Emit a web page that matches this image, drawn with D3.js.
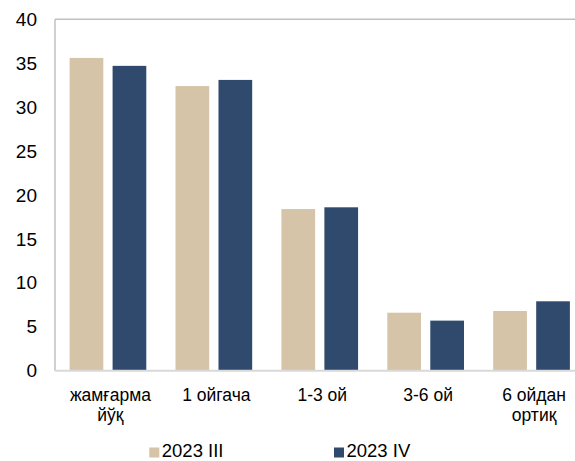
<!DOCTYPE html>
<html><head><meta charset="utf-8">
<script src="https://cdn.jsdelivr.net/npm/d3@7"></script>
<style>html,body{margin:0;padding:0;background:#fff;}svg{display:block;}</style>
</head><body>
<svg id="c" width="575" height="461"></svg>
<script>
const categories = [["жамғарма","йўқ"],["1 ойгача"],["1-3 ой"],["3-6 ой"],["6 ойдан","ортиқ"]];
const seriesNames = ["2023 III","2023 IV"];
const series2023III = [35.6, 32.4, 18.4, 6.6, 6.8];
const series2023IV = [34.7, 33.1, 18.6, 5.7, 7.9];
const yTicks = [0,5,10,15,20,25,30,35,40];
const colors = ["#d5c4a8","#2f4a6d"];

(function(){
const svg = d3.select("#c");
const font = "'Liberation Sans', Arial, sans-serif";
const pL = 55, pR = 584.5, pT = 19.3, pB = 370.7;

const x = d3.scaleBand().domain(d3.range(categories.length)).range([pL, pR]).paddingInner(0).paddingOuter(0);
const xs = d3.scaleBand().domain([0,1]).range([0, x.bandwidth()]).paddingInner(0.216).paddingOuter(0.34);
const y = d3.scaleLinear().domain([0,40]).range([pB, pT]);

svg.append("line").attr("x1",pL).attr("x2",575).attr("y1",pT).attr("y2",pT).attr("stroke","#c0c0c0").attr("stroke-width",1.5);
svg.append("line").attr("x1",pL).attr("x2",pL).attr("y1",pT).attr("y2",pB).attr("stroke","#c0c0c0").attr("stroke-width",1.5);

const data = [series2023III, series2023IV];
data.forEach((vals, si) => {
  svg.append("g").selectAll("rect").data(vals).join("rect")
    .attr("x", (d,i) => x(i) + xs(si))
    .attr("width", xs.bandwidth())
    .attr("y", d => y(d))
    .attr("height", d => y(0) - y(d))
    .attr("fill", colors[si]);
});

svg.append("line").attr("x1",pL).attr("x2",575).attr("y1",pB).attr("y2",pB).attr("stroke","#d9d9d9").attr("stroke-width",2);

const yAxis = d3.axisLeft(y).tickValues(yTicks).tickSize(0).tickPadding(18);
const gy = svg.append("g").attr("transform",`translate(${pL},0)`).call(yAxis);
gy.select(".domain").remove();
gy.selectAll("text").attr("font-family",font).attr("font-size",19).attr("fill","#000");

categories.forEach((lines, i) => {
  const t = svg.append("text").attr("text-anchor","middle").attr("font-family",font).attr("font-size",17.5).attr("fill","#000");
  lines.forEach((ln, j) => {
    t.append("tspan").attr("x", x(i) + x.bandwidth()/2 + 2.5).attr("y", 400.5 + j*20).text(ln);
  });
});

const legX = [149.3, 334];
seriesNames.forEach((name, i) => {
  svg.append("rect").attr("x",legX[i]).attr("y",447.5).attr("width",10).attr("height",10).attr("fill",colors[i]);
  svg.append("text").attr("x",legX[i]+12.5).attr("y",457.3).attr("font-family",font).attr("font-size",18.5).attr("fill","#000").text(name);
});
})();
</script>
</body></html>
